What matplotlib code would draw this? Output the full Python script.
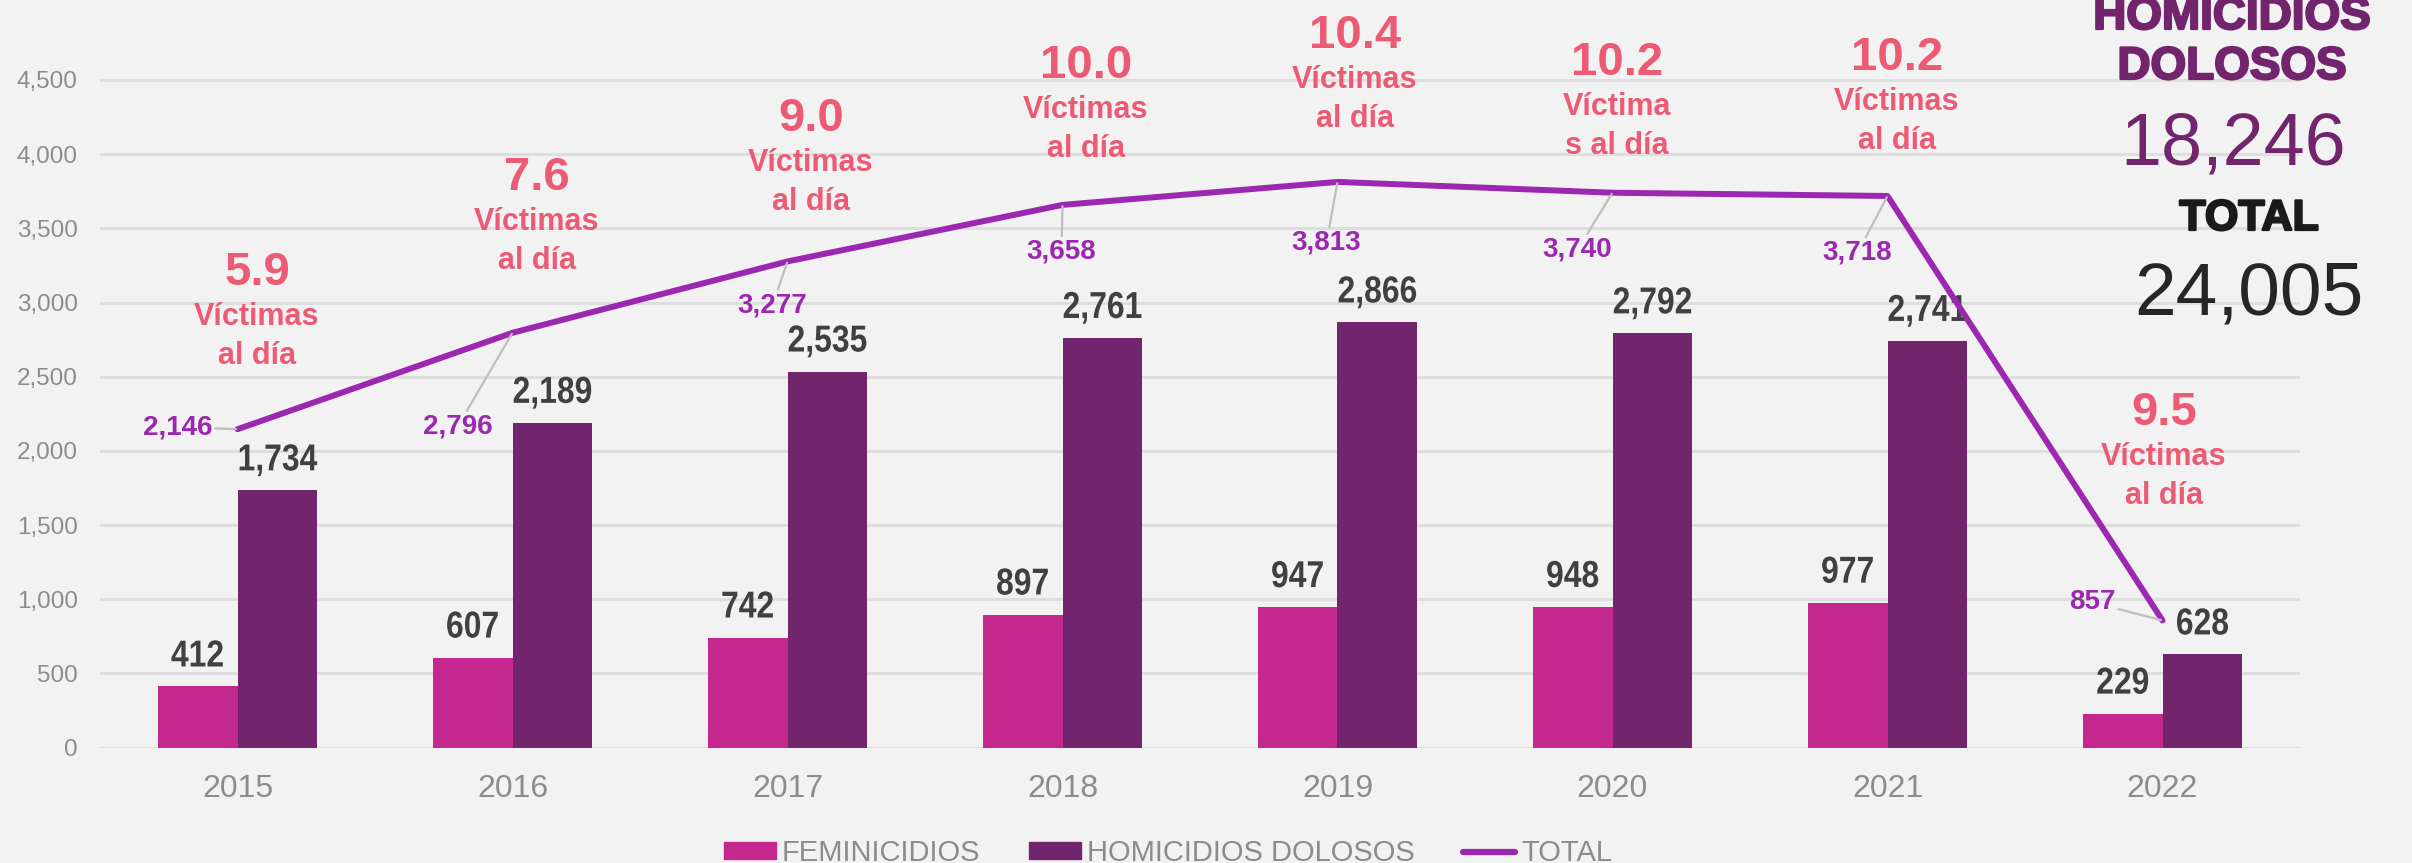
import numpy as np
import matplotlib.pyplot as plt
from matplotlib.patches import Patch
from matplotlib.lines import Line2D
from matplotlib.transforms import blended_transform_factory, Affine2D
import matplotlib.patheffects as pe

years = ["2015", "2016", "2017", "2018", "2019", "2020", "2021", "2022"]
feminicidios = [412, 607, 742, 897, 947, 948, 977, 229]
homicidios = [1734, 2189, 2535, 2761, 2866, 2792, 2741, 628]
total = [2146, 2796, 3277, 3658, 3813, 3740, 3718, 857]
victimas_dia = ["5.9", "7.6", "9.0", "10.0", "10.4", "10.2", "10.2", "9.5"]
victimas_txt = [("Víctimas", "al día")] * 5 + [("Víctima", "s al día")] + [("Víctimas", "al día")] * 2
total_homicidios = "18,246"
total_general = "24,005"

BG = "#F2F2F2"
FEM_COLOR = "#C4288E"
HOM_COLOR = "#72246C"
LINE_COLOR = "#9C27B0"
RATE_COLOR = "#EC5A74"
GRAY = "#8C8C8C"
LABEL_DARK = "#404040"

plt.rcParams["font.family"] = ["Liberation Sans", "DejaVu Sans"]


class Narrow(pe.AbstractPathEffect):
    # squeeze glyphs horizontally around their centre (Arial Narrow look)
    def __init__(self, sx):
        super().__init__()
        self.sx = sx

    def draw_path(self, renderer, gc, tpath, affine, rgbFace=None):
        ext = tpath.get_extents()
        cx = (ext.x0 + ext.x1) / 2
        t = Affine2D().translate(-cx, 0).scale(self.sx, 1).translate(cx, 0) + affine
        renderer.draw_path(gc, tpath, t, rgbFace)


W, H = 2412, 863
fig = plt.figure(figsize=(W / 100, H / 100), dpi=100, facecolor=BG)
base_px = 747.6
px_per_unit = 0.14836
ax = fig.add_axes([100 / W, (H - base_px) / H, 2200 / W, base_px / H])
ax.set_facecolor(BG)

x = np.arange(len(years))
bw = 0.29
ax.bar(x - bw / 2, feminicidios, bw, color=FEM_COLOR, zorder=2)
ax.bar(x + bw / 2, homicidios, bw, color=HOM_COLOR, zorder=2)
ax.plot(x, total, color=LINE_COLOR, lw=4.3, zorder=4, solid_capstyle="round")

ax.set_xlim(-0.5, len(years) - 0.5)
ax.set_ylim(0, base_px / px_per_unit)
ax.set_yticks(np.arange(0, 4501, 500))
ax.set_yticklabels([f"{v:,}" for v in range(0, 4501, 500)])
ax.set_xticks(x)
ax.set_xticklabels(years)
ax.tick_params(axis="y", length=0, pad=16, labelsize=17.5, labelcolor=GRAY)
ax.tick_params(axis="x", length=0, pad=19, labelsize=23, labelcolor=GRAY)
ax.grid(axis="y", color="#DEDEDE", lw=2.2, zorder=0)
ax.set_axisbelow(True)
for s in ax.spines.values():
    s.set_visible(False)

# bar value labels
narrow = [Narrow(0.85)]
for i in range(len(years)):
    ax.annotate(f"{feminicidios[i]:,}", (x[i] - bw / 2, feminicidios[i]), xytext=(0, 20),
                textcoords="offset pixels", ha="center", va="baseline",
                fontsize=27, fontweight="bold", color=LABEL_DARK, path_effects=narrow)
    ax.annotate(f"{homicidios[i]:,}", (x[i] + bw / 2, homicidios[i]), xytext=(0, 20),
                textcoords="offset pixels", ha="center", va="baseline",
                fontsize=27, fontweight="bold", color=LABEL_DARK, path_effects=narrow)

# total labels with leader lines (offsets in pixels)
total_off = [(-60, 2), (-55, -94), (-15, -44), (-1, -47), (-11, -61), (-35, -57), (-30, -57), (-70, 18)]
for i, (dx, dy) in enumerate(total_off):
    ax.annotate(f"{total[i]:,}", (x[i], total[i]), xytext=(dx, dy), textcoords="offset pixels",
                ha="center", va="center", fontsize=20, fontweight="bold", color=LINE_COLOR,
                arrowprops=dict(arrowstyle="-", color="#BFBFBF", lw=1.6, shrinkA=0, shrinkB=1),
                zorder=5)

# victims per day
tr = blended_transform_factory(ax.transData, fig.transFigure)
rate_dx = [19.5, 24.5, 23.5, 23.5, 17.5, 4.5, 9.5, 1.5]
rate_base = [285, 190, 131, 78, 48, 75, 70, 425]
for i in range(len(years)):
    xi = x[i] + rate_dx[i] / 275
    yb = rate_base[i]
    ax.text(xi, 1 - yb / H, victimas_dia[i], transform=tr, ha="center", va="baseline",
            fontsize=34, fontweight="bold", color=RATE_COLOR)
    l1, l2 = victimas_txt[i]
    ax.text(xi, 1 - (yb + 40) / H, l1, transform=tr, ha="center", va="baseline",
            fontsize=22, fontweight="bold", color=RATE_COLOR)
    ax.text(xi, 1 - (yb + 79) / H, l2, transform=tr, ha="center", va="baseline",
            fontsize=22, fontweight="bold", color=RATE_COLOR)

# right side totals
heavy = lambda c: [pe.withStroke(linewidth=1.6, foreground=c)]
fig.text(2232 / W, 1 - 29 / H, "HOMICIDIOS", ha="center", va="baseline", fontsize=33,
         fontweight="bold", color=HOM_COLOR, path_effects=heavy(HOM_COLOR))
fig.text(2232 / W, 1 - 79 / H, "DOLOSOS", ha="center", va="baseline", fontsize=33,
         fontweight="bold", color=HOM_COLOR, path_effects=heavy(HOM_COLOR))
fig.text(2233 / W, 1 - 165 / H, total_homicidios, ha="center", va="baseline", fontsize=53,
         color=HOM_COLOR)
fig.text(2249 / W, 1 - 230 / H, "TOTAL", ha="center", va="baseline", fontsize=31,
         fontweight="bold", color="#1A1A1A", path_effects=heavy("#1A1A1A"))
fig.text(2249 / W, 1 - 315 / H, total_general, ha="center", va="baseline", fontsize=54,
         color="#262626")

handles = [Patch(color=FEM_COLOR), Patch(color=HOM_COLOR),
           Line2D([], [], color=LINE_COLOR, lw=4.5, solid_capstyle="round")]
fig.legend(handles, ["FEMINICIDIOS", "HOMICIDIOS DOLOSOS", "TOTAL"], ncol=3,
           loc="center", bbox_to_anchor=(1168 / W, 10 / H), frameon=False,
           fontsize=21, labelcolor=GRAY, handlelength=1.8, handleheight=0.52,
           handletextpad=0.2, columnspacing=1.65, borderpad=0)

fig.savefig("out.png", dpi=100, facecolor=BG)
